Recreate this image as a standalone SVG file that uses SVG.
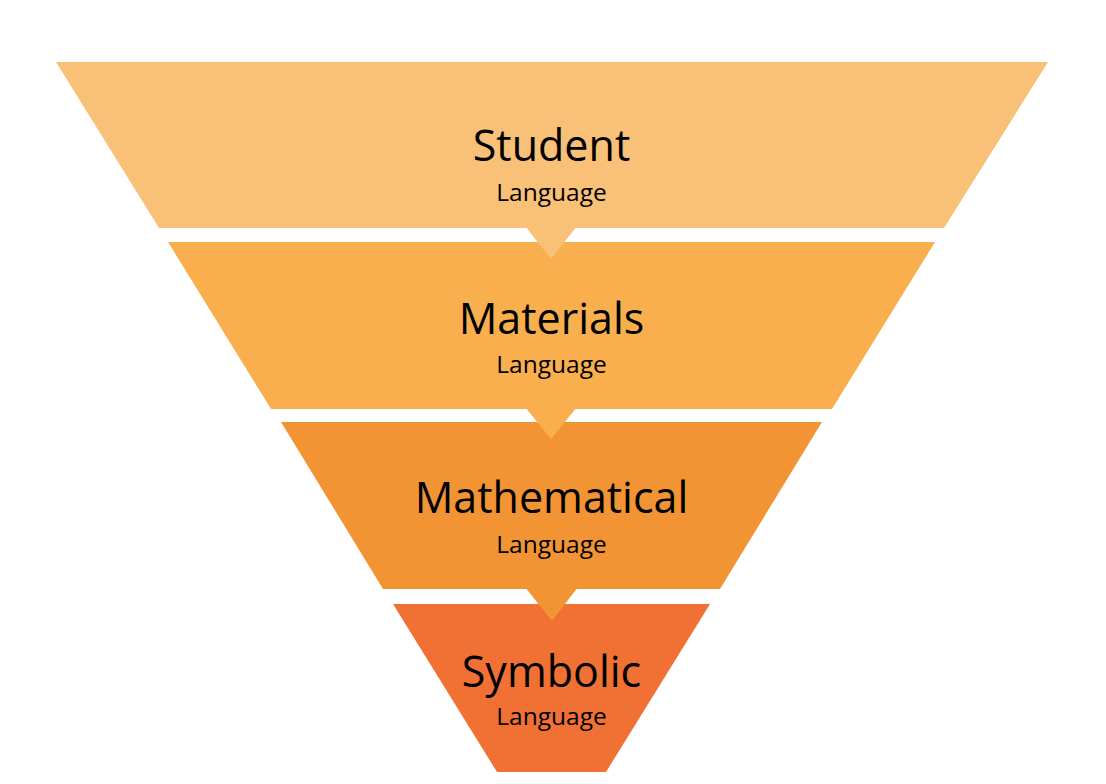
<svg xmlns="http://www.w3.org/2000/svg" width="1106" height="784" viewBox="0 0 1106 784">
<style>
.t{font-family:"Open Sans","Noto Sans",sans-serif;fill:#000;text-anchor:middle}
.big{font-size:43px}
.small{font-size:24.5px}
</style>
<rect width="1106" height="784" fill="#fff"/>
<g id="student">
<polygon points="56,62 1048,62 944,228 159,228" fill="#F9C077"/>
<text class="t big" x="551.5" y="161">Student</text>
<text class="t small" x="551.5" y="201">Language</text>
</g>
<g id="materials">
<polygon points="168,242 935,242 832,409 271,409" fill="#F9AF4E"/>
<text class="t big" x="551.5" y="334">Materials</text>
<text class="t small" x="551.5" y="373">Language</text>
</g>
<g id="mathematical">
<polygon points="281,422 822,422 720,589 383,589" fill="#F39434"/>
<text class="t big" x="551.5" y="513">Mathematical</text>
<text class="t small" x="551.5" y="553">Language</text>
</g>
<g id="symbolic">
<polygon points="393,604 710,604 606,772 497,772" fill="#F07133"/>
<text class="t big" x="551.5" y="687">Symbolic</text>
<text class="t small" x="551.5" y="725">Language</text>
</g>
<g id="connectors">
<polygon points="525,226 577,226 551,259" fill="#F9C077"/>
<polygon points="525,407 577,407 551,439" fill="#F9AF4E"/>
<polygon points="525,587 578,587 552,621" fill="#F39434"/>
</g>
</svg>
